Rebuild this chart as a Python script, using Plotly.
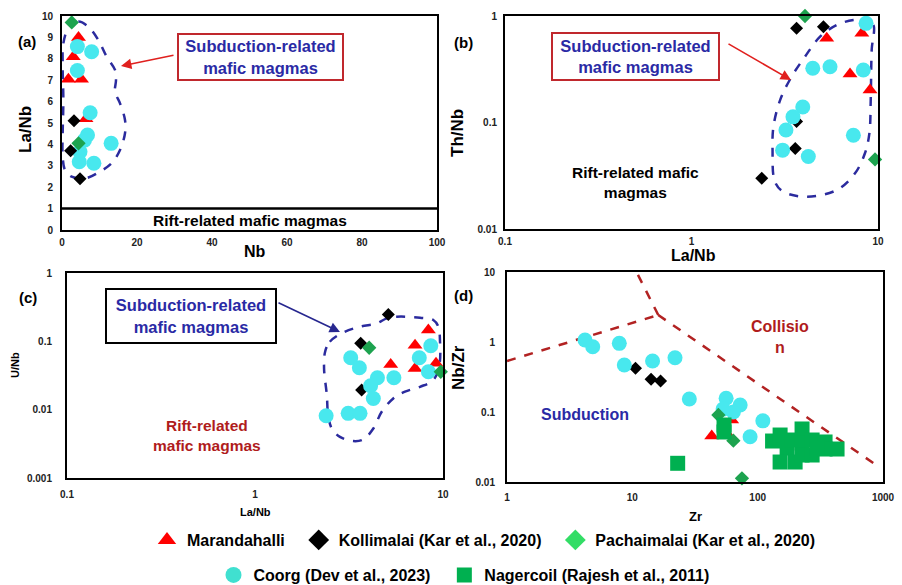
import plotly.graph_objects as go

W, H = 902, 585

# ---------------- DATA ----------------
# Panel (a): Nb vs La/Nb
a_mar_x = [4.4, 3.0, 1.7, 5.2, 6.4]
a_mar_y = [9.0, 8.1, 7.05, 7.05, 5.2]
a_kol_x = [3.2, 2.3, 4.8]
a_kol_y = [5.1, 3.7, 2.4]
a_pac_x = [2.6, 4.4]
a_pac_y = [9.7, 4.05]
a_coo_x = [4.1, 7.9, 4.1, 7.5, 6.8, 6.0, 4.8, 4.6, 8.5, 13.1]
a_coo_y = [8.57, 8.33, 7.45, 5.48, 4.44, 4.2, 3.66, 3.19, 3.12, 4.05]
a_env_x = [1.69, 4.36, 7.02, 9.69, 11.91, 14.13, 14.4, 14.13, 15.47, 16.8, 16.8, 15.47,
           13.24, 10.13, 6.13, 2.58, 0.8, 0.18, 0.18, 0.36, 0.18, 0.36, 1.69]
a_env_y = [9.42, 9.74, 9.5, 8.88, 8.1, 7.48, 7.01, 6.46, 5.92, 5.14, 4.52, 3.74,
           3.12, 2.73, 2.41, 2.49, 2.8, 3.43, 4.52, 6.07, 7.63, 8.72, 9.42]
a_rift_level = 1

# Panel (b): La/Nb vs Th/Nb
b_mar_x = [5.31, 8.19, 7.08, 9.06]
b_mar_y = [0.618, 0.687, 0.285, 0.202]
b_kol_x = [3.66, 5.1, 3.66, 3.6, 2.38]
b_kol_y = [0.766, 0.794, 0.102, 0.057, 0.030]
b_pac_x = [4.06, 9.64]
b_pac_y = [1.0, 0.045]
b_coo_x = [8.63, 4.47, 5.53, 8.34, 3.95, 3.5, 3.21, 3.08, 4.23, 7.38]
b_coo_y = [0.853, 0.323, 0.334, 0.311, 0.14, 0.113, 0.085, 0.055, 0.048, 0.076]
b_env_x = [8.69, 9.45, 9.25, 9.14, 8.99, 8.51, 7.53, 6.0, 4.15, 3.1, 2.8, 2.72,
           2.75, 2.99, 3.44, 4.06, 4.89, 6.0, 7.38, 8.69]
b_env_y = [0.917, 0.823, 0.48, 0.163, 0.079, 0.0514, 0.0333, 0.0232, 0.0201, 0.0224,
           0.0278, 0.0552, 0.0914, 0.163, 0.269, 0.415, 0.64, 0.823, 0.917, 0.917]

# Panel (c): La/Nb vs U/Nb
c_mar_x = [8.36, 7.1, 5.27, 7.1, 9.18]
c_mar_y = [0.146, 0.088, 0.046, 0.040, 0.0476]
c_kol_x = [5.12, 3.65, 3.69]
c_kol_y = [0.248, 0.094, 0.0194]
c_pac_x = [4.05, 9.73]
c_pac_y = [0.0805, 0.0359]
c_coo_x = [8.61, 7.48, 8.36, 3.23, 3.59, 5.48, 4.48, 4.12, 4.26, 3.13, 3.62, 2.39]
c_coo_y = [0.0863, 0.0575, 0.0359, 0.0575, 0.041, 0.0293, 0.0293, 0.0224, 0.0146,
           0.00883, 0.00883, 0.00814]
c_env_x = [2.36, 2.5, 2.95, 3.62, 4.44, 5.02, 5.67, 7.55, 8.88, 9.44, 9.64, 9.56, 8.88,
           7.55, 6.28, 5.44, 4.72, 4.26, 3.77, 3.33, 2.83, 2.56, 2.45, 2.41, 2.33, 2.36]
c_env_y = [0.0705, 0.0987, 0.135, 0.164, 0.183, 0.217, 0.229, 0.222, 0.205, 0.164,
           0.0987, 0.045, 0.0271, 0.0216, 0.0183, 0.0146, 0.0093, 0.0053, 0.00367,
           0.00347, 0.004, 0.0053, 0.00834, 0.0164, 0.0402, 0.0705]

# Panel (d): Zr vs Nb/Zr
d_mar_x = [43, 56.6, 62]
d_mar_y = [0.0454, 0.0496, 0.077]
d_kol_x = [10.6, 14.1, 16.8]
d_kol_y = [0.421, 0.293, 0.277]
d_pac_x = [48.6, 64, 74.9]
d_pac_y = [0.0906, 0.0389, 0.0113]
d_coo_x = [4.19, 4.83, 7.87, 8.63, 14.5, 21.9, 28.5, 56, 72.5, 64, 53, 110, 87]
d_coo_y = [1.07, 0.857, 0.957, 0.469, 0.535, 0.597, 0.153, 0.157, 0.126, 0.1, 0.11,
           0.0748, 0.0443]
d_nag_x = [23, 53.9, 53.9, 131.5, 151, 171.8, 151, 199, 188, 226, 226, 226, 272, 272,
           345, 345, 430, 298]
d_nag_y = [0.0185, 0.0652, 0.0518, 0.0385, 0.0469, 0.0306, 0.0193, 0.0193, 0.0398,
           0.0572, 0.0361, 0.0243, 0.0243, 0.0398, 0.0373, 0.0296, 0.0296, 0.0306]
d_line1_x = [1, 16.1]
d_line1_y = [0.535, 2.43]
d_line2_x = [16.1, 10.8]
d_line2_y = [2.43, 10]
d_line3_x = [16.1, 948]
d_line3_y = [2.43, 0.016]

series_names = ["Marandahalli", "Kollimalai (Kar et al., 2020)", "Pachaimalai (Kar et al., 2020)",
                "Coorg (Dev et al., 2023)", "Nagercoil (Rajesh et al., 2011)"]

# ---------------- STYLE ----------------
MAR = dict(symbol="triangle-up", color="#FF0000", size=13, line=dict(width=0))
KOL = dict(symbol="diamond", color="#000000", size=10, line=dict(width=0))
PAC = dict(symbol="diamond", color="#1DA34F", size=11, line=dict(width=0))
COO = dict(symbol="circle", color="#48E8EE", size=15, line=dict(width=0))
NAG = dict(symbol="square", color="#00B050", size=15, line=dict(width=0))
ENV = dict(color="#2B2B9E", width=2.5, dash="dash", shape="spline", smoothing=1.0)
BND = dict(color="#B22222", width=2.5, dash="dash")
BLUE = "#2A2AA5"
DRED = "#B01C1C"
FONT = "Liberation Sans, Arial, sans-serif"

fig = go.Figure()


def pts(x, y, mk, xa, ya):
    fig.add_trace(go.Scatter(x=x, y=y, mode="markers", marker=mk, xaxis=xa, yaxis=ya,
                             showlegend=False, cliponaxis=False, hoverinfo="skip"))


def line(x, y, ln, xa, ya):
    fig.add_trace(go.Scatter(x=x, y=y, mode="lines", line=ln, xaxis=xa, yaxis=ya,
                             showlegend=False, cliponaxis=False, hoverinfo="skip"))


# Panel a
line(a_env_x, a_env_y, ENV, "x", "y")
pts(a_mar_x, a_mar_y, MAR, "x", "y")
pts(a_coo_x, a_coo_y, COO, "x", "y")
pts(a_kol_x, a_kol_y, KOL, "x", "y")
pts(a_pac_x, a_pac_y, PAC, "x", "y")
# Panel b
line(b_env_x, b_env_y, ENV, "x2", "y2")
pts(b_mar_x, b_mar_y, MAR, "x2", "y2")
pts(b_kol_x, b_kol_y, KOL, "x2", "y2")
pts(b_coo_x, b_coo_y, COO, "x2", "y2")
pts(b_pac_x, b_pac_y, PAC, "x2", "y2")
# Panel c
line(c_env_x, c_env_y, ENV, "x3", "y3")
pts(c_mar_x, c_mar_y, MAR, "x3", "y3")
pts(c_kol_x, c_kol_y, KOL, "x3", "y3")
pts(c_coo_x, c_coo_y, COO, "x3", "y3")
pts(c_pac_x, c_pac_y, PAC, "x3", "y3")
# Panel d
line(d_line1_x, d_line1_y, BND, "x4", "y4")
line(d_line2_x, d_line2_y, BND, "x4", "y4")
line(d_line3_x, d_line3_y, BND, "x4", "y4")
pts(d_mar_x, d_mar_y, MAR, "x4", "y4")
pts(d_kol_x, d_kol_y, KOL, "x4", "y4")
pts(d_coo_x, d_coo_y, COO, "x4", "y4")
pts(d_pac_x, d_pac_y, PAC, "x4", "y4")
pts(d_nag_x, d_nag_y, NAG, "x4", "y4")

# Legend-only traces
leg_markers = [
    dict(symbol="triangle-up", color="#FF0000", size=16),
    dict(symbol="diamond", color="#000000", size=16),
    dict(symbol="diamond", color="#33DD66", size=16),
    dict(symbol="circle", color="#40E0D0", size=16),
    dict(symbol="square", color="#00B050", size=15),
]
row_end = [False, False, True, False, True]
for i, (nm, mk) in enumerate(zip(series_names, leg_markers)):
    label = "<b>" + nm + "</b>" + ("" if row_end[i] else "\u00a0\u00a0")
    fig.add_trace(go.Scatter(x=[None], y=[None], mode="markers", marker=mk, name=label,
                             xaxis="x", yaxis="y", legend="legend" if i < 3 else "legend2"))


def dom_x(l, r):
    return [l / W, r / W]


def dom_y(t, b):
    return [1 - b / H, 1 - t / H]


TICKF = dict(family=FONT, size=10, color="#222222", weight="bold")
AX = dict(showline=True, linewidth=2, linecolor="black", mirror=True, showgrid=False,
          zeroline=False, ticks="", tickfont=TICKF, fixedrange=True, automargin=False)

LEGF = dict(family=FONT, size=16, color="black")
fig.update_layout(
    width=W, height=H, margin=dict(l=0, r=0, t=0, b=0, autoexpand=False),
    paper_bgcolor="white", plot_bgcolor="white",
    font=dict(family=FONT),
    xaxis=dict(AX, domain=dom_x(62, 437), range=[0, 100], tickvals=[0, 20, 40, 60, 80, 100],
               anchor="y", ticklabelstandoff=2),
    yaxis=dict(AX, domain=dom_y(16, 230), range=[0, 10], tickvals=list(range(0, 11)),
               anchor="x", ticklabelstandoff=5),
    xaxis2=dict(AX, domain=dom_x(505, 878), type="log", range=[-1, 1], tickvals=[0.1, 1, 10],
                ticktext=["0.1", "1", "10"], anchor="y2", ticklabelstandoff=2),
    yaxis2=dict(AX, domain=dom_y(16, 229), type="log", range=[-2, 0], tickvals=[0.01, 0.1, 1],
                ticktext=["0.01", "0.1", "1"], anchor="x2", ticklabelstandoff=4),
    xaxis3=dict(AX, domain=dom_x(67, 443), type="log", range=[-1, 1], tickvals=[0.1, 1, 10],
                ticktext=["0.1", "1", "10"], anchor="y3", ticklabelstandoff=6),
    yaxis3=dict(AX, domain=dom_y(273, 478), type="log", range=[-3, 0],
                tickvals=[0.001, 0.01, 0.1, 1], ticktext=["0.001", "0.01", "0.1", "1"],
                anchor="x3", ticklabelstandoff=11),
    xaxis4=dict(AX, domain=dom_x(507, 883), type="log", range=[0, 3],
                tickvals=[1, 10, 100, 1000], ticktext=["1", "10", "100", "1000"],
                anchor="y4", ticklabelstandoff=5),
    yaxis4=dict(AX, domain=dom_y(272, 482), type="log", range=[-2, 1],
                tickvals=[0.01, 0.1, 1, 10], ticktext=["0.01", "0.1", "1", "10"],
                anchor="x4", ticklabelstandoff=8),
    legend=dict(orientation="h", x=484 / W, xanchor="center", y=1 - 540 / H, yanchor="middle",
                font=LEGF, bgcolor="rgba(0,0,0,0)", itemsizing="trace"),
    legend2=dict(orientation="h", x=464 / W, xanchor="center", y=1 - 575 / H, yanchor="middle",
                 font=LEGF, bgcolor="rgba(0,0,0,0)", itemsizing="trace"),
)

# Rift line in panel (a)
fig.add_shape(type="line", xref="x", yref="y", x0=0, x1=101.3, y0=a_rift_level, y1=a_rift_level,
              line=dict(color="black", width=2.5))

anns = []


def txt(x, y, s, size, color="black", angle=0, **kw):
    d = dict(x=x / W, y=1 - y / H, xref="paper", yref="paper", text=s, showarrow=False,
             xanchor="center", yanchor="middle", textangle=angle,
             font=dict(family=FONT, size=size, color=color))
    d.update(kw)
    anns.append(d)


def box(cx, cy, w, h, s, border, color=BLUE):
    anns.append(dict(x=cx / W, y=1 - cy / H, xref="paper", yref="paper", text=s,
                     showarrow=False, xanchor="center", yanchor="middle",
                     width=w, height=h, borderwidth=2, bordercolor=border, borderpad=0,
                     bgcolor="white", font=dict(family=FONT, size=16.5, color=color)))


def arrow(hx, hy, tx, ty, color):
    anns.append(dict(x=hx / W, y=1 - hy / H, xref="paper", yref="paper", text="",
                     showarrow=True, ax=tx - hx, ay=ty - hy, arrowhead=2, arrowsize=1.3,
                     arrowwidth=1.6, arrowcolor=color))


# Panel (a)
txt(27, 42, "<b>(a)</b>", 15)
txt(25, 130, "<b>La/Nb</b>", 17, angle=-90)
txt(255, 251, "<b>Nb</b>", 16)
txt(250, 220, "<b>Rift-related mafic magmas</b>", 15.5)
box(260, 57, 163, 44, "<b>Subduction-related<br>mafic magmas</b>", "#C0282D")
arrow(121, 66, 175, 55, "#E0201E")
# Panel (b)
txt(463, 43, "<b>(b)</b>", 15)
txt(458, 133, "<b>Th/Nb</b>", 17, angle=-90)
txt(693, 255, "<b>La/Nb</b>", 16)
txt(635, 182, "<b>Rift-related mafic<br>magmas</b>", 15.5)
box(635, 57, 165, 45, "<b>Subduction-related<br>mafic magmas</b>", "#C0282D")
arrow(791, 80, 727, 43, "#E0201E")
# Panel (c)
txt(28, 297, "<b>(c)</b>", 15)
txt(15, 365, "<b>U/Nb</b>", 11, angle=-90)
txt(255, 512, "<b>La/Nb</b>", 11)
txt(207, 435, "<b>Rift-related<br>mafic magmas</b>", 15.5, color=DRED)
box(191, 316, 168, 52, "<b>Subduction-related<br>mafic magmas</b>", "black")
arrow(340, 332, 277, 302, "#27278F")
# Panel (d)
txt(463, 295, "<b>(d)</b>", 15)
txt(458, 368, "<b>Nb/Zr</b>", 17, angle=-90)
txt(695, 516, "<b>Zr</b>", 13)
txt(585, 414, "<b>Subduction</b>", 16, color=BLUE)
txt(780, 337, "<b>Collisio<br>n</b>", 16, color=DRED)

fig.update_layout(annotations=anns)

fig.write_html("out.html", config={"displayModeBar": False},
               post_script="document.body.style.margin='0';")
